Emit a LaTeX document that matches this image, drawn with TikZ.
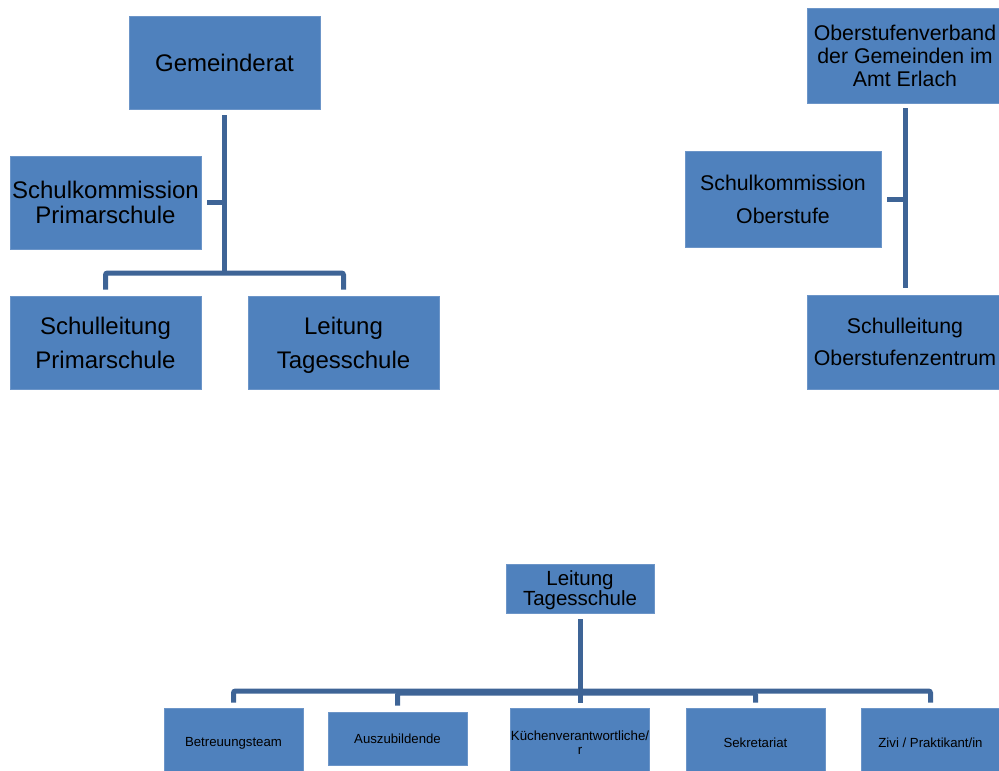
\documentclass[tikz,border=0pt]{standalone}
\usepackage{fontspec}
\setmainfont{Liberation Sans}
\definecolor{boxfill}{HTML}{4F81BD}
\definecolor{boxedge}{HTML}{6C95C8}
\definecolor{linec}{HTML}{3E6496}
\newcommand{\nodepth}[1]{\raisebox{0pt}[\height][0pt]{#1}}
\begin{document}
\begin{tikzpicture}[x=1pt,y=-1pt,
  box/.style={draw=boxedge, line width=0.8pt, fill=boxfill, inner sep=0pt, align=center, text=black},
  conn/.style={draw=linec, line width=5pt, rounded corners=2pt}]
\useasboundingbox (0,0) rectangle (999,771);
\clip (0,0) rectangle (999,771);
% left top tree
\node[box, minimum width=191pt, minimum height=93pt, font=\fontsize{24}{29}\selectfont] (gem) at (224.5,62.5) {\nodepth{Gemeinderat}};
\node[box, minimum width=191pt, minimum height=93pt, font=\fontsize{24}{25}\selectfont] (skp) at (105.5,202.5) {Schulkommission\\Primarschule};
\node[box, minimum width=191pt, minimum height=93pt, font=\fontsize{24}{34}\selectfont] (slp) at (105.5,342.5) {Schulleitung\\Primarschule};
\node[box, minimum width=191pt, minimum height=93pt, font=\fontsize{24}{34}\selectfont] (lts) at (343.5,342.5) {Leitung\\\nodepth{Tagesschule}};
% right top tree
\node[box, minimum width=196pt, minimum height=95pt, font=\fontsize{21.3}{23}\selectfont] (osv) at (905,55.5) {Oberstufenverband\\der Gemeinden im\\Amt Erlach};
\node[box, minimum width=196pt, minimum height=96pt, font=\fontsize{21.3}{33}\selectfont] (sko) at (783,199) {Schulkommission\\Oberstufe};
\node[box, minimum width=196pt, minimum height=94pt, font=\fontsize{21.3}{32}\selectfont] (slo) at (905,342) {Schulleitung\\Oberstufenzentrum};
% bottom tree
\node[box, minimum width=148pt, minimum height=49pt, font=\fontsize{20.5}{20}\selectfont] (ltb) at (580,588.5) {Leitung\\\nodepth{Tagesschule}};
\node[box, minimum width=139pt, minimum height=70pt, font=\fontsize{13.2}{14}\selectfont] (bt) at (233.5,743) {Betreuungsteam};
\node[box, minimum width=139pt, minimum height=53pt, font=\fontsize{13.2}{14}\selectfont] (az) at (397.5,738.5) {Auszubildende};
\node[box, minimum width=139pt, minimum height=70pt, font=\fontsize{13.3}{14}\selectfont] (kv) at (580,743) {Küchenverantwortliche/\\r};
\node[box, minimum width=139pt, minimum height=70pt, font=\fontsize{13.2}{14}\selectfont] (sk) at (755.5,743) {Sekretariat};
\node[box, minimum width=139pt, minimum height=70pt, font=\fontsize{13.2}{14}\selectfont] (zp) at (930.5,743) {Zivi / Praktikant/in};
% connectors left
\coordinate (jl) at (224.5,273);
\draw[conn] ([yshift=-6pt]gem.south) -- (jl);
\draw[conn] ([xshift=6pt]skp.east) -- (skp.east -| jl);
\draw[conn] ([yshift=6pt]slp.north) |- (jl) -| ([yshift=6pt]lts.north);
% connectors right
\draw[conn] ([yshift=-5pt]osv.south) -- ([yshift=7pt]slo.north);
\draw[conn] ([xshift=6pt]sko.east) -- (sko.east -| osv.south);
% connectors bottom
\coordinate (jb) at (580,691);
\coordinate (jb2) at (580,693);
\draw[conn] ([yshift=-6pt]ltb.south) -- (jb);
\draw[conn] ([yshift=5pt]bt.north) |- (jb) -| ([yshift=5pt]zp.north);
\draw[conn] ([yshift=6pt]az.north) |- (jb2) -| ([yshift=5pt]sk.north);
\draw[conn] ([yshift=5pt]kv.north) -- (jb);
\end{tikzpicture}
\end{document}
